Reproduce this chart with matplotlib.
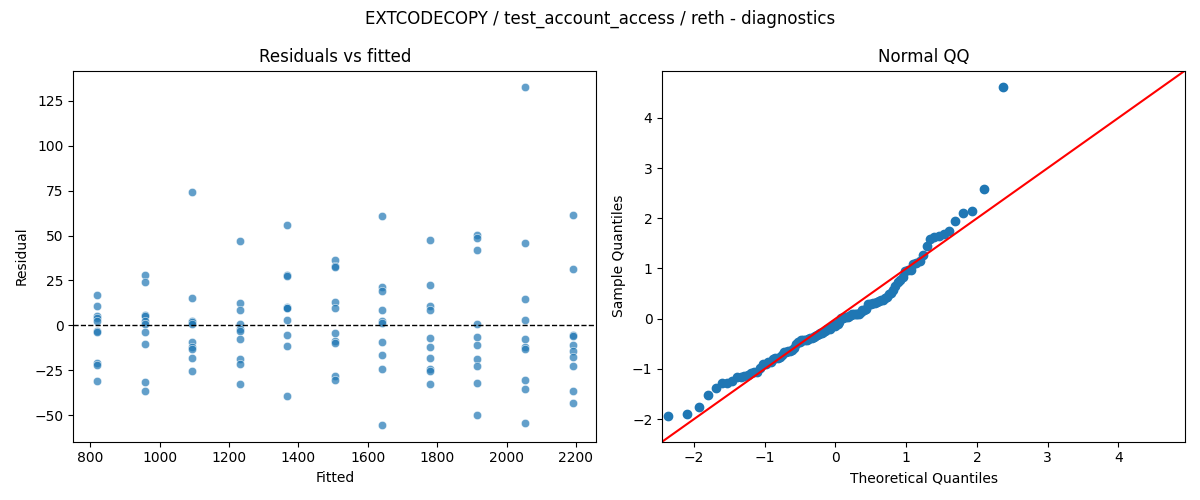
from statistics import NormalDist
import numpy as np
import seaborn as sns
from matplotlib import pyplot as plt

# fitted value of each group and the residuals
fitted_levels = [820, 957, 1094, 1231, 1368, 1505, 1642, 1779, 1916, 2053, 2190]
resid_820 = [16.7, 10.6, 5.4, 3.9, 2.4, -3.1, -3.7, -20.7, -22.0, -30.9]
resid_957 = [27.8, 23.9, 5.7, 5.2, 2.6, 1.0, -3.9, -10.6, -31.7, -36.7]
resid_1094 = [74.1, 15.0, 2.6, 1.9, 0.7, -9.3, -12.2, -13.3, -18.3, -25.6]
resid_1231 = [46.9, 12.2, 8.3, 0.9, -1.9, -3.0, -7.8, -18.9, -21.7, -32.8]
resid_1368 = [55.7, 27.8, 27.5, 10.0, 9.7, 9.4, 2.8, -5.6, -11.7, -39.4]
resid_1505 = [36.3, 33.0, 32.2, 12.8, 9.4, -4.4, -8.5, -10.0, -28.1, -30.4]
resid_1642 = [60.7, 21.1, 18.9, 8.3, 2.6, 1.3, -9.4, -16.7, -24.3, -55.4]
resid_1779 = [47.4, 22.2, 10.9, 8.3, -7.2, -11.9, -18.3, -24.4, -25.6, -32.8]
resid_1916 = [50.4, 48.5, 41.9, 0.7, -6.7, -10.7, -18.9, -22.4, -32.2, -50.0]
resid_2053 = [132.4, 45.7, 14.4, 2.8, -7.8, -11.9, -13.3, -30.4, -35.6, -54.4]
resid_2190 = [61.3, 31.2, -5.4, -5.8, -11.1, -14.3, -17.8, -22.8, -36.7, -43.3]

groups = [resid_820, resid_957, resid_1094, resid_1231, resid_1368, resid_1505,
          resid_1642, resid_1779, resid_1916, resid_2053, resid_2190]
fitted = np.concatenate([[f] * len(g) for f, g in zip(fitted_levels, groups)])
resid = np.concatenate(groups)

# normal QQ: standardized residuals vs normal quantiles i/(n+1)
n = len(resid)
sample_q = np.sort((resid - resid.mean()) / resid.std())
theo_q = np.array([NormalDist().inv_cdf(i / (n + 1)) for i in range(1, n + 1)])

fig, (ax1, ax2) = plt.subplots(1, 2, figsize=(12, 5), dpi=100)

sns.scatterplot(x=fitted, y=resid, ax=ax1, alpha=0.7)
ax1.axhline(0, color='black', linestyle='--', linewidth=1)
ax1.set_xlabel('Fitted')
ax1.set_ylabel('Residual')
ax1.set_title('Residuals vs fitted')

ax2.plot(theo_q, sample_q, marker='o', linestyle='none', color='C0')
ax2.axline((0, 0), slope=1, color='r')
ax2.set_xlim(-2.45, 4.94)
ax2.set_ylim(-2.45, 4.94)
ax2.set_xlabel('Theoretical Quantiles')
ax2.set_ylabel('Sample Quantiles')
ax2.set_title('Normal QQ')

fig.suptitle('EXTCODECOPY / test_account_access / reth - diagnostics')
fig.tight_layout()
fig.savefig('out.png')
